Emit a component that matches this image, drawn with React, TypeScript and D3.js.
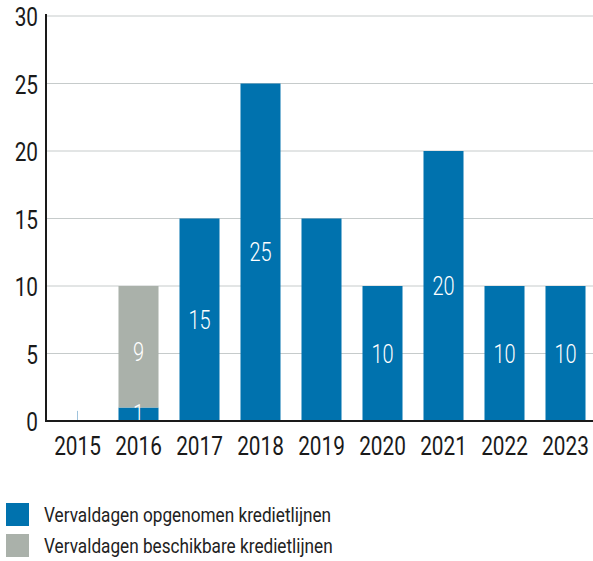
import React from 'react';
import * as d3 from 'd3';

const years = ['2015', '2016', '2017', '2018', '2019', '2020', '2021', '2022', '2023'];
const opgenomen = [0, 1, 15, 25, 15, 10, 20, 10, 10];
const beschikbaar = [0, 9, 0, 0, 0, 0, 0, 0, 0];
// labels shown inside the bars (null = no label)
const opgenomenLabels = [null, '1', '15', '25', null, '10', '20', '10', '10'];
const beschikbaarLabels = [null, '9', null, null, null, null, null, null, null];
const yTicks = [0, 5, 10, 15, 20, 25, 30];
const legendItems = ['Vervaldagen opgenomen kredietlijnen', 'Vervaldagen beschikbare kredietlijnen'];

const BLUE = '#0072ae';
const GREY = '#aab1aa';
const FONT = 'Roboto, "Noto Sans", sans-serif';

// condensed text: the reference uses a narrow face, so squeeze Roboto horizontally
const CText = ({ x, y, anchor = 'start', size, fill, squeeze = 0.8, weight = 400, children }: any) => (
	<g transform={`translate(${x},${y}) scale(${squeeze},1)`}>
		<text dy="0.36em" textAnchor={anchor} fill={fill} fontSize={size} fontWeight={weight}>
			{children}
		</text>
	</g>
);

export default function App() {
	const width = 593;
	const height = 561;
	const left = 47;
	const right = 596;
	const top = 16;
	const bottom = 421;

	const x = d3.scaleBand().domain(years).range([left, right]).paddingInner(0.344).paddingOuter(0.172);
	const y = d3.scaleLinear().domain([0, 30]).range([bottom, top]);

	const rows = years.map((yr, i) => ({ yr, a: opgenomen[i], b: beschikbaar[i], la: opgenomenLabels[i], lb: beschikbaarLabels[i] }));

	return (
		<svg width={width} height={height} style={{ position: 'absolute', left: 0, top: 0, fontFamily: FONT }}>
			{/* gridlines */}
			{yTicks.filter((t) => t > 0).map((t) => (
				<line key={t} x1={left} x2={width} y1={y(t)} y2={y(t)} stroke="#c6cbcb" strokeWidth={1} />
			))}
			{/* bars */}
			{rows.map((d) => {
				const bx = x(d.yr) as number;
				const bw = x.bandwidth();
				return (
					<g key={d.yr}>
						{d.a === 0 && d.b === 0 ? (
							<line x1={bx + bw / 2} x2={bx + bw / 2} y1={y(0)} y2={y(0.75)} stroke="#9fc3dc" strokeWidth={1} />
						) : null}
						<rect x={bx} y={y(d.a)} width={bw} height={y(0) - y(d.a)} fill={BLUE} />
						<rect x={bx} y={y(d.a + d.b)} width={bw} height={y(0) - y(d.b)} fill={GREY} />
						{d.la ? (
							<CText x={bx + bw / 2} y={(y(0) + y(d.a)) / 2} anchor="middle" fill="#fff" size={25} weight={300}>
								{d.la}
							</CText>
						) : null}
						{d.lb ? (
							<CText x={bx + bw / 2} y={(y(d.a) + y(d.a + d.b)) / 2 + 5} anchor="middle" fill="#fff" size={25} weight={300}>
								{d.lb}
							</CText>
						) : null}
					</g>
				);
			})}
			{/* axes */}
			<line x1={left - 1} x2={left - 1} y1={top - 2} y2={bottom + 1} stroke="#1a1a1a" strokeWidth={2} />
			<line x1={left - 1} x2={width} y1={bottom} y2={bottom} stroke="#1a1a1a" strokeWidth={2} />
			{yTicks.map((t) => (
				<CText key={t} x={38} y={y(t) + 1} anchor="end" fill="#1a1a1a" size={26}>
					{t}
				</CText>
			))}
			{years.map((yr) => (
				<CText key={yr} x={(x(yr) as number) + x.bandwidth() / 2} y={446} anchor="middle" fill="#1a1a1a" size={26}>
					{yr}
				</CText>
			))}
			{/* legend */}
			{legendItems.map((label, i) => (
				<g key={label} transform={`translate(6,${503 + i * 31})`}>
					<rect width={23} height={23} fill={i === 0 ? BLUE : GREY} />
					<CText x={38} y={11.5} fill="#222" size={20} squeeze={0.86}>
						{label}
					</CText>
				</g>
			))}
		</svg>
	);
}
